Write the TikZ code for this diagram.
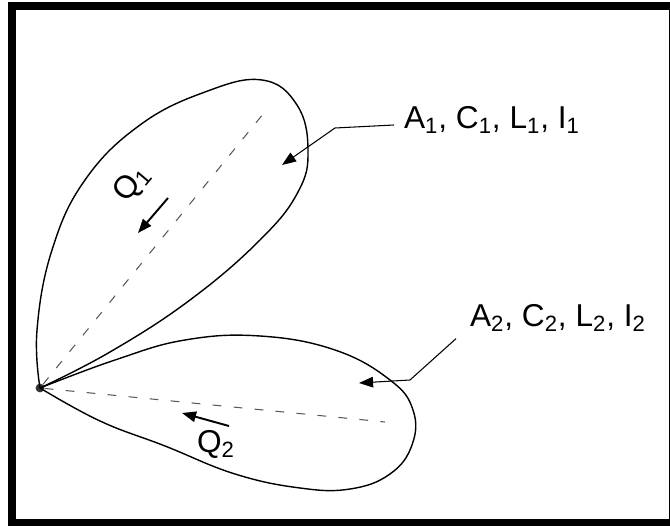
\documentclass[tikz,border=0pt]{standalone}
\usepackage{fontspec}
\setmainfont{Liberation Sans}
\usetikzlibrary{arrows.meta}

\tikzset{
  lobe/.style={line width=0.8pt, line join=round},
  axis/.style={line width=0.6pt, dash pattern=on 5pt off 7pt, gray!70!black},
  lead/.style={line width=0.6pt},
  flow/.style={line width=1.1pt},
  lbl/.style={font=\fontsize{18}{21}\selectfont, inner sep=1pt}
}

\begin{document}
\begin{tikzpicture}[x=0.02cm, y=-0.02cm, >={Triangle[length=8pt,width=6pt]}]

% Frame
\useasboundingbox (0,0) rectangle (670,526);
\draw[line width=4.5pt] (12,6) rectangle (673,523);

% Common point
\node[circle, fill=black!80, inner sep=0pt, minimum size=5pt] (O) at (40,388) {};

% Lobe 1
\draw[lobe] plot[smooth, tension=0.7] coordinates {(40,388) (37,330) (52,250) (85,180)
  (140,125) (205,92) (262,80) (297,105) (308,150) (298,192) (260,240)
  (190,300) (110,352) (40,388)};

% Lobe 2
\draw[lobe] plot[smooth, tension=0.7] coordinates {(40,388) (115,360) (185,340) (260,336)
  (335,350) (390,380) (413,410) (412,445) (390,474) (350,489) (300,488)
  (235,474) (165,446) (100,421) (40,388)};

% Axes of the lobes
\coordinate (E1) at (268,108);
\coordinate (E2) at (385,422);
\draw[axis] (O) -- (E1);
\draw[axis] (O) -- (E2);

% Flows
\coordinate (q1s) at (168,198);
\coordinate (q1e) at (138,233);
\draw[flow,->] (q1s) -- (q1e);
\node[lbl, rotate=50] (Q1) at (132,184) {Q\textsubscript{1}};

\coordinate (q2s) at (229,426);
\coordinate (q2e) at (182,413);
\draw[flow,->] (q2s) -- (q2e);
\node[lbl] (Q2) at (216,444) {Q\textsubscript{2}};

% Labels with leaders
\node[lbl] (lab1) at (492,120) {A\textsubscript{1}, C\textsubscript{1}, L\textsubscript{1}, I\textsubscript{1}};
\coordinate (b1) at (335,128);
\coordinate (t1) at (282,165);
\draw[lead,->] (lab1.west) ++(-8,5) -- (b1) -- (t1);

\node[lbl] (lab2) at (558,318) {A\textsubscript{2}, C\textsubscript{2}, L\textsubscript{2}, I\textsubscript{2}};
\coordinate (b2) at (410,380);
\coordinate (t2) at (359,383);
\draw[lead,->] (lab2.south west) ++(-12,5) -- (b2) -- (t2);

\end{tikzpicture}
\end{document}
